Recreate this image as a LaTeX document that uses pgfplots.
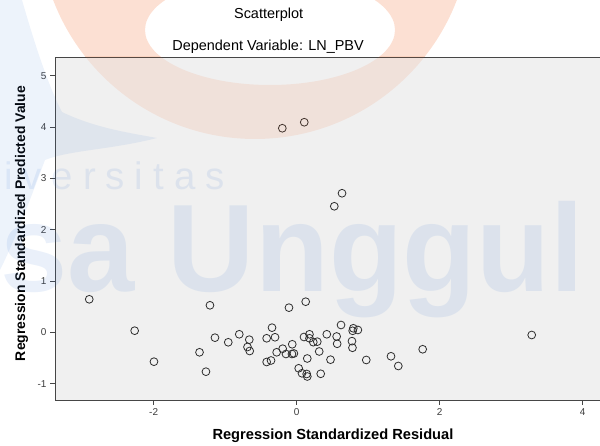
\documentclass[border=0pt]{standalone}
\usepackage{fontspec}
\setmainfont{Liberation Sans}
\newfontfamily\wmthin[LetterSpace=26]{Liberation Sans}
\usepackage{pgfplots}
\pgfplotsset{compat=1.18}
\definecolor{plotbg}{RGB}{240,240,240}
\definecolor{framec}{RGB}{70,70,70}
\definecolor{tickc}{RGB}{60,60,60}
\definecolor{ptc}{RGB}{45,45,45}
\definecolor{wmblue}{RGB}{60,120,210}
\definecolor{wmorange}{RGB}{242,101,34}
\pgfplotstableread{
x y
-0.201 3.977
0.106 4.094
0.634 2.710
0.526 2.456
-2.901 0.643
-2.266 0.031
-1.996 -0.573
-1.359 -0.390
-1.213 0.526
-0.108 0.480
-0.345 0.090
-1.143 -0.105
-0.803 -0.039
-0.957 -0.195
-0.663 -0.144
-0.688 -0.287
-0.657 -0.365
-0.420 -0.117
-0.303 -0.097
-1.269 -0.768
-0.420 -0.579
-0.359 -0.550
-0.280 -0.390
-0.196 -0.320
-0.150 -0.423
-0.062 -0.234
-0.066 -0.423
-0.039 -0.413
0.028 -0.702
0.074 -0.799
0.140 -0.813
0.148 -0.862
0.336 -0.809
0.126 0.596
0.620 0.142
0.792 0.078
0.856 0.045
0.783 0.029
0.102 -0.092
0.179 -0.039
0.179 -0.117
0.232 -0.193
0.288 -0.183
0.421 -0.039
0.559 -0.082
0.566 -0.224
0.773 -0.173
0.780 -0.302
0.148 -0.511
0.315 -0.374
0.473 -0.534
0.973 -0.540
1.319 -0.468
1.421 -0.657
1.762 -0.331
3.287 -0.053
}\resid
\begin{document}
\begin{tikzpicture}[x=1bp,y=1bp]
\begin{scope}
\clip (0,0) rectangle (600,446);
\begin{axis}[
  at={(55bp,46bp)}, anchor=south west,
  width=545bp, height=343bp, scale only axis,
  xmin=-3.380, xmax=4.242, ymin=-1.320, ymax=5.366,
  axis background/.style={fill=plotbg},
  axis line style={framec, line width=0.8bp},
  tick align=outside, xtick pos=bottom, ytick pos=left,
  major tick length=5bp,
  tick style={framec, line width=0.8bp},
  xtick={-2,0,2,4}, ytick={-1,0,1,2,3,4,5},
  ticklabel style={font=\fontsize{10}{12}\selectfont, text=tickc},
  /pgf/number format/assume math mode=true,
  title={Scatterplot},
  title style={at={(axis description cs:0.392,1.0962)}, anchor=base, inner sep=0,
    font=\fontsize{14.5}{17}\selectfont},
  xlabel={Regression Standardized Residual},
  xlabel style={at={(axis description cs:0.510,-0.1146)}, anchor=base, inner sep=0,
    font=\bfseries\fontsize{14.7}{17}\selectfont},
  ylabel={Regression Standardized Predicted Value},
  ylabel style={at={(axis description cs:-0.0550,0.5146)}, anchor=base, inner sep=0,
    font=\bfseries\fontsize{14}{17}\selectfont},
  extra description/.code={
    \node[anchor=base, inner sep=0, font=\fontsize{14.5}{17}\selectfont]
      at (axis description cs:0.391,1.0175) {Dependent Variable: LN\_PBV};
  },
]
\addplot[only marks, mark=o, mark size=3.9bp, mark options={draw=ptc, line width=0.8bp}]
  table[x=x, y=y] {\resid};
\end{axis}
% watermark (orange ring)
\begin{scope}
  \clip (55,46) rectangle (600,389);
  \fill[wmorange, fill opacity=0.10, even odd rule] (255,523) circle (216) (270,416) ellipse [x radius=125, y radius=55];
\end{scope}
\begin{scope}
  \clip (0,389) rectangle (600,446);
  \fill[wmorange, fill opacity=0.2, even odd rule] (255,523) circle (216) (270,416) ellipse [x radius=125, y radius=55];
\end{scope}
\begin{scope}
  \clip (0,0) rectangle (55,389);
  \fill[wmorange, fill opacity=0.15, even odd rule] (255,523) circle (216) (270,416) ellipse [x radius=125, y radius=55];
\end{scope}
% watermark (blue)
\fill[wmblue, fill opacity=0.09] (0,446) -- (22,446) .. controls (35,401) and (48,361) .. (62,334)
  .. controls (95,318) and (130,313) .. (157,308) .. controls (110,296) and (70,296) .. (45,286)
  .. controls (30,246) and (15,206) .. (0,176) -- cycle;
\node[anchor=base west, inner sep=0, text=wmblue, text opacity=0.11,
  font=\wmthin\fontsize{38.5}{40}\selectfont] at (4,256) {iversitas};
\node[anchor=base west, inner sep=0, text=wmblue, text opacity=0.11, xscale=0.97,
  font=\bfseries\fontsize{125}{130}\selectfont] at (0,154) {sa Unggul};
\end{scope}
\pgfresetboundingbox
\useasboundingbox (0,0) rectangle (600,446);
\end{tikzpicture}
\end{document}
